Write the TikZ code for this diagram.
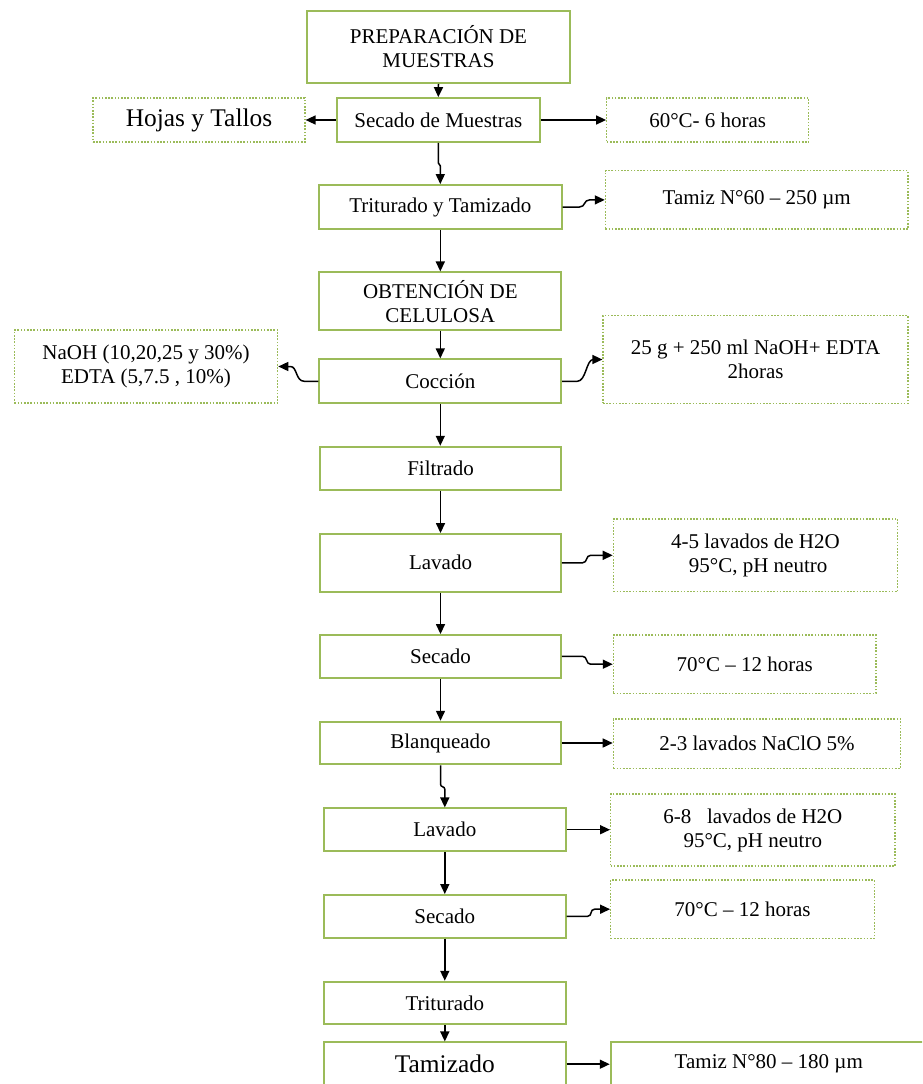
\documentclass[tikz,border=0pt]{standalone}
\usepackage{fontspec}
\setmainfont{Liberation Serif}
\usetikzlibrary{arrows.meta}
\definecolor{boxgreen}{RGB}{155,187,89}
\newcommand\nsz{\fontsize{21}{24}\selectfont}
\newcommand\bsz{\fontsize{25.4}{29}\selectfont}
\begin{document}
\begin{tikzpicture}[x=1pt,y=-1pt,
  proc/.style={draw=boxgreen, line width=1.8pt, inner sep=0pt, align=center, font=\nsz, fill=white},
  note/.style={draw=boxgreen, line width=1.2pt, dash pattern=on 1.6pt off 1.6pt, inner sep=0pt, align=center, font=\nsz, fill=white},
  arr/.style={-{Triangle[length=10pt,width=9pt]}, line width=1.5pt, black},
  sz/.style n args={2}{minimum width=#1pt, minimum height=#2pt}]
\useasboundingbox (0,0) rectangle (922,1084);
\clip (0,0) rectangle (922,1084);
\fill[white] (0,0) rectangle (922,1084);

% main column
\node[proc, sz={263}{72}] (prep) at (438.5,47) {PREPARACIÓN DE\\MUESTRAS};
\node[proc, sz={203}{44}] (secM) at (438.3,120) {Secado de Muestras};
\node[note, sz={212}{44}, font=\bsz] (hojas) at (199,120) {Hojas y Tallos};
\node[note, sz={202}{44}] (t60h) at (707.7,120) {60°C- 6 horas};
\node[proc, sz={242.7}{44}] (trit) at (440.3,207) {Triturado y Tamizado};
\node[note, sz={302.7}{58.3}] (tam60) at (756.7,199.9) {Tamiz N°60 – 250 µm};
\node[proc, sz={242}{57.7}] (obt) at (440.3,301.2) {OBTENCIÓN DE\\CELULOSA};
\node[note, sz={263.4}{73}] (naoh) at (146,366.5) {NaOH (10,20,25 y 30\%)\\EDTA (5,7.5 , 10\%)};
\node[proc, sz={242}{44}] (cocc) at (440.3,381.3) {Cocción};
\node[note, sz={305}{87.6}] (g25) at (755.5,359.5) {25 g + 250 ml NaOH+ EDTA\\2horas};
\node[proc, sz={241}{43.3}] (filt) at (440.5,468.3) {Filtrado};
\node[proc, sz={241}{57.7}] (lav1) at (440.5,562.8) {Lavado};
\node[note, sz={284.4}{72.7}] (l45) at (755.5,555.3) {4-5 lavados de H2O\\\ 95°C, pH neutro};
\node[proc, sz={241}{42.7}] (sec1) at (440.5,656.3) {Secado};
\node[note, sz={262.7}{58.3}] (t70a) at (744.7,664.2) {70°C – 12 horas};
\node[proc, sz={241}{42.7}] (blan) at (440.5,743) {Blanqueado};
\node[note, sz={287.4}{49.3}] (l23) at (757,743.7) {2-3 lavados NaClO 5\%};
\node[proc, sz={241.7}{42.7}] (lav2) at (444.8,829.7) {Lavado};
\node[note, sz={284.3}{72}] (l68) at (752.8,830) {6-8\ \ \ lavados de H2O\\95°C, pH neutro};
\node[proc, sz={241.7}{42.7}] (sec2) at (444.8,916.3) {Secado};
\node[note, sz={263.6}{58.3}] (t70b) at (742.5,909.2) {70°C – 12 horas};
\node[proc, sz={241.7}{42.7}] (tritu) at (444.8,1003) {Triturado};
\node[proc, sz={241.7}{43.7}, font=\bsz] (tamz) at (444.8,1064.2) {Tamizado};
\node[proc, sz={316.3}{43.7}] (tam80) at (768.8,1064.2) {Tamiz N°80 – 180 µm};

% vertical connectors
\draw[arr] (prep.south) -- (secM.north);
\draw[arr] (secM.south) -- ++(0,20) .. controls +(0,2) and +(0,-2) .. ++(2,3) -- (trit.north);
\draw[arr] (trit.south) -- (obt.north);
\draw[arr] (obt.south) -- (cocc.north);
\draw[arr] (cocc.south) -- (cocc.south |- filt.north);
\draw[arr] (filt.south) -- (lav1.north);
\draw[arr] (lav1.south) -- (sec1.north);
\draw[arr] (sec1.south) -- (blan.north);
\draw[arr] (blan.south) -- ++(0,19) .. controls +(0,3) and +(0,-3) .. ++(4.3,5) -- (lav2.north);
\draw[arr] (lav2.south) -- (sec2.north);
\draw[arr] (sec2.south) -- (tritu.north);
\draw[arr] (tritu.south) -- (tamz.north);

% horizontal connectors
\draw[arr] (secM.west) -- (hojas.east);
\draw[arr] (secM.east) -- (t60h.west);
\draw[arr] (trit.east) -- ++(17,0) .. controls +(6,0) and +(-6,0) .. ++(10,-7.1) -- (tam60.west);
\draw[arr] (cocc.west) -- ++(-14,0) .. controls +(-9,0) and +(7,0) .. ++(-14,-14.8) -- (naoh.east);
\draw[arr] (cocc.east) -- ++(15,0) .. controls +(9,0) and +(-7,0) .. ++(16,-21.8) -- (g25.west);
\draw[arr] (lav1.east) -- ++(20.7,0) .. controls +(5,0) and +(-5,0) .. ++(8,-7.5) -- (l45.west);
\draw[arr] (sec1.east) -- ++(20.7,0) .. controls +(5,0) and +(-5,0) .. ++(8,7.9) -- (t70a.west);
\draw[arr] (blan.east) -- (blan.east -| l23.west);
\draw[arr] (lav2.east) -- (lav2.east -| l68.west);
\draw[arr] (sec2.east) -- ++(21,0) .. controls +(5,0) and +(-5,0) .. ++(7,-7.1) -- (t70b.west);
\draw[arr] (tamz.east) -- (tam80.west);
\end{tikzpicture}
\end{document}
